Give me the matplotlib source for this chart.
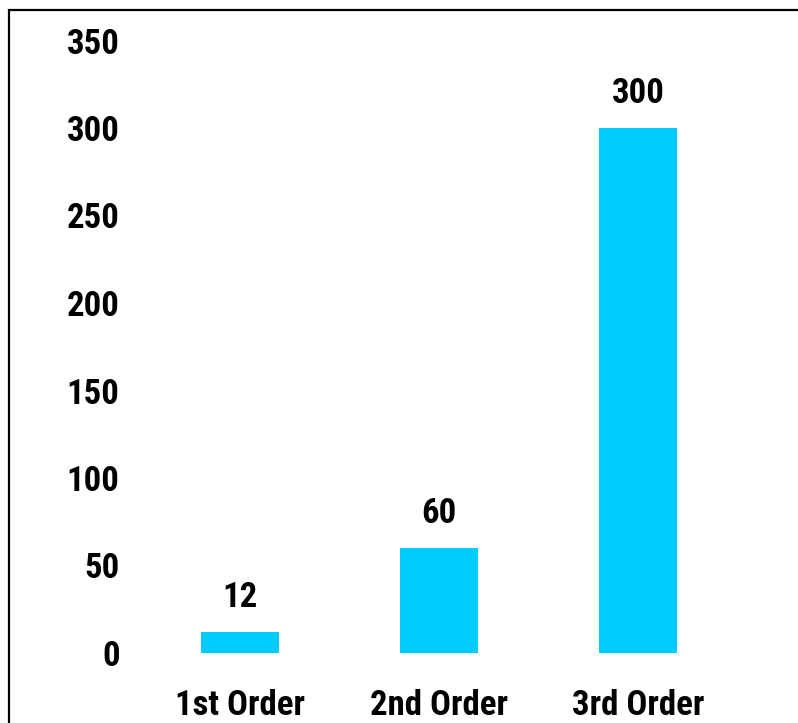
import matplotlib.pyplot as plt
from matplotlib.patches import Rectangle
from matplotlib import font_manager

categories = ['1st Order', '2nd Order', '3rd Order']
values = [12, 60, 300]
yticks = [0, 50, 100, 150, 200, 250, 300, 350]

# prefer a narrow sans that has a real bold face, like the original
bold = {f.name for f in font_manager.fontManager.ttflist
        if f.weight in (700, 'bold') and f.style == 'normal'}
wanted = ['Liberation Sans Narrow', 'Arial Narrow', 'Roboto Condensed',
          'PT Sans Narrow', 'Asap Condensed', 'Barlow Semi Condensed',
          'DejaVu Sans']
family = next(n for n in wanted if n in bold)
plt.rcParams['font.family'] = [family, 'DejaVu Sans']

W, H = 798, 723
fig = plt.figure(figsize=(W / 100, H / 100), dpi=100)
ax = fig.add_axes([140.5 / W, 1 - 653 / H, 597 / W, 612.5 / H])

x = range(len(categories))
bars = ax.bar(x, values, width=0.39, color='#00CCFF')
for b, v in zip(bars, values):
    ax.annotate(str(v), (b.get_x() + b.get_width() / 2, v),
                xytext=(0, 13), textcoords='offset points',
                ha='center', va='bottom', fontsize=25, fontweight='bold')

ax.set_xlim(-0.5, 2.5)
ax.set_ylim(0, 350)
ax.set_yticks(yticks)
ax.set_xticks(list(x))
ax.set_xticklabels(categories)
for s in ax.spines.values():
    s.set_visible(False)
ax.tick_params(axis='y', length=0, pad=15, labelsize=25)
ax.tick_params(axis='x', length=0, pad=26, labelsize=25)
for lab in ax.get_xticklabels() + ax.get_yticklabels():
    lab.set_fontweight('bold')

# outer frame running off the right and bottom edges
fig.patches.append(Rectangle((9 / W, -0.1), 1.1, 1 - 10 / H + 0.1,
                             transform=fig.transFigure, fill=False,
                             edgecolor='black', linewidth=1.6))

plt.savefig('out.png', dpi=100)
